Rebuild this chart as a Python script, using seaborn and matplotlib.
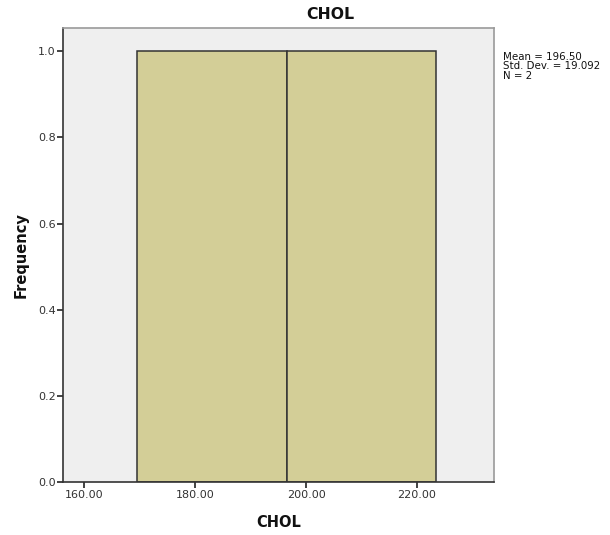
import matplotlib
matplotlib.use("Agg")
import matplotlib.pyplot as plt
import seaborn as sns
import numpy as np
import pandas as pd

# Cholesterol observations and histogram bin edges
chol_values = [183.0, 210.0]
bin_edges = [169.5, 196.5, 223.5]
x_ticks = [160, 180, 200, 220]
y_ticks = [0.0, 0.2, 0.4, 0.6, 0.8, 1.0]

df = pd.DataFrame({"CHOL": chol_values})
mean = np.mean(chol_values)
sd = np.std(chol_values, ddof=1)
n = len(chol_values)

sns.set_style("ticks")
plt.rcParams["font.family"] = ["DejaVu Sans"]
plt.rcParams.update({
    "xtick.major.size": 4.3, "ytick.major.size": 4.3,
    "xtick.major.width": 1.2, "ytick.major.width": 1.2,
    "xtick.color": "#222222", "ytick.color": "#222222",
    "xtick.bottom": True, "ytick.left": True,
})

W, H = 610, 535
fig = plt.figure(figsize=(W / 100, H / 100), dpi=100)
left, right, top, bottom = 62.7, 494.0, 28.3, 482.3
ax = fig.add_axes([left / W, 1 - bottom / H, (right - left) / W, (bottom - top) / H])
ax.set_facecolor("#efefef")

sns.histplot(data=df, x="CHOL", bins=bin_edges, stat="count", ax=ax,
             color="#d3ce97", alpha=1.0, edgecolor="#333333", linewidth=1.1)

ax.set_xlim(156.1, 233.9)
ax.set_ylim(0, 1.0526)
ax.set_xticks(x_ticks)
ax.set_xticklabels([f"{t:.2f}" for t in x_ticks], fontsize=8)
ax.set_yticks(y_ticks)
ax.set_yticklabels([f"{t:.1f}" for t in y_ticks], fontsize=8)
ax.tick_params(axis="x", which="major", direction="out", pad=1.5, labelcolor="#333333")
ax.tick_params(axis="y", which="major", direction="out", pad=0.8, labelcolor="#333333")

for side in ["left", "bottom"]:
    ax.spines[side].set_color("#333333")
    ax.spines[side].set_linewidth(1.2)
for side in ["top", "right"]:
    ax.spines[side].set_visible(True)
    ax.spines[side].set_color("#9a9a9a")
    ax.spines[side].set_linewidth(1.2)

# Axis labels
ax.set_xlabel("CHOL", fontsize=10.5, fontweight="bold", color="#111111")
ax.xaxis.label.set_va("baseline")
ax.xaxis.set_label_coords(0.5, (bottom - 527.0) / (bottom - top))
ax.set_ylabel("Frequency", fontsize=10.5, fontweight="bold", color="#111111")
ax.yaxis.label.set_va("center")
ax.yaxis.set_label_coords((20.8 - left) / (right - left), 0.5)

# Chart title, centred over the whole chart area
fig.text(330.5 / W, 1 - 19.3 / H, "CHOL", fontsize=11.3, fontweight="bold",
         ha="center", va="baseline", color="#111111")

# Summary statistics
fig.text(502.7 / W, 1 - 51.5 / H, f"Mean = {mean:.2f}\nStd. Dev. = {sd:.3f}\nN = {n}",
         fontsize=7.4, va="top", ha="left", linespacing=0.95, color="#111111")

fig.savefig("out.png", dpi=100)
